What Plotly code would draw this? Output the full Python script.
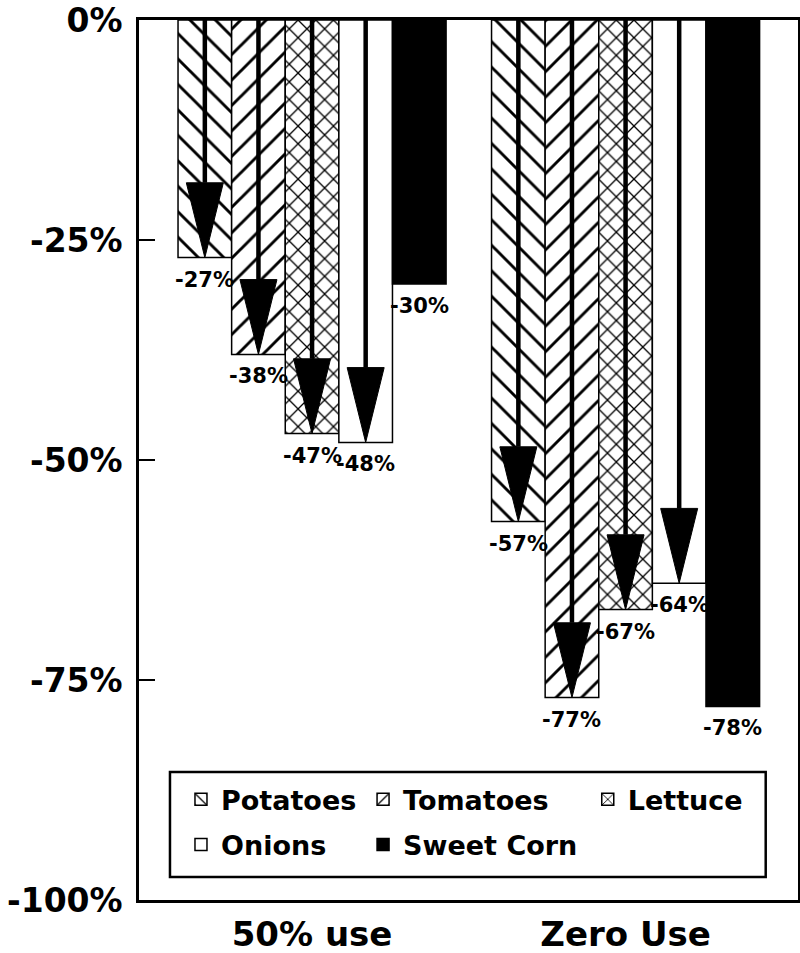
import plotly.graph_objects as go

# ---------------- data ----------------
groups = ["50% use", "Zero Use"]
crops = ["Potatoes", "Tomatoes", "Lettuce", "Onions", "Sweet Corn"]
potatoes = [-27, -57]
tomatoes = [-38, -77]
lettuce = [-47, -67]
onions = [-48, -64]
sweet_corn = [-30, -78]
y_tick_values = [0, -25, -50, -75, -100]
y_tick_labels = ["0%", "-25%", "-50%", "-75%", "-100%"]

series = [potatoes, tomatoes, lettuce, onions, sweet_corn]
has_arrow = [True, True, True, True, False]

# ---------------- styles ----------------
FONT = "DejaVu Sans"
group_pos = [0, 1]
bar_w = 0.171
head_h = 8.5      # arrow head height in axis units (%)
head_hw = 0.059   # arrow head half width in x units

patterns = [
    dict(shape="\\", size=18, solidity=0.16, fgcolor="#000000", bgcolor="#ffffff",
         fgopacity=1, fillmode="replace"),
    dict(shape="/", size=18, solidity=0.16, fgcolor="#000000", bgcolor="#ffffff",
         fgopacity=1, fillmode="replace"),
    dict(shape="x", size=12.5, solidity=0.2, fgcolor="#000000", bgcolor="#ffffff",
         fgopacity=1, fillmode="replace"),
    dict(shape=""),
    dict(shape=""),
]
fills = ["white", "white", "white", "white", "black"]
legend_ids = ["legend", "legend2", "legend3", "legend", "legend2"]

fig = go.Figure()
shapes = []
annotations = []

for i, (name, vals) in enumerate(zip(crops, series)):
    xs = [g + (i - 2) * bar_w for g in group_pos]
    fig.add_trace(go.Bar(
        x=xs, y=vals, width=bar_w, name=name,
        legend=legend_ids[i], legendgroup=name,
        marker=dict(color=fills[i], pattern=patterns[i],
                    line=dict(color="black", width=1.5)),
        showlegend=True,
    ))
    for x, v in zip(xs, vals):
        if has_arrow[i]:
            shapes.append(dict(type="line", xref="x", yref="y",
                               x0=x, x1=x, y0=0, y1=v + head_h,
                               line=dict(color="black", width=4.5), layer="above"))
            shapes.append(dict(type="path", xref="x", yref="y",
                               path=f"M{x - head_hw},{v + head_h} L{x + head_hw},{v + head_h} L{x},{v} Z",
                               fillcolor="black", line=dict(color="black", width=1), layer="above"))
        annotations.append(dict(x=x, y=v, xref="x", yref="y", text=f"{v}%",
                                showarrow=False, yanchor="top", yshift=-8,
                                font=dict(family=FONT, size=21, color="black", weight="bold")))

# legend frame
shapes.append(dict(type="rect", xref="paper", yref="paper",
                   x0=0.047, x1=0.951, y0=0.026, y1=0.1455,
                   line=dict(color="black", width=2.5), fillcolor="white", layer="above"))

legend_font = dict(family=FONT, size=27, color="black", weight="bold")
common_leg = dict(bgcolor="rgba(0,0,0,0)", borderwidth=0, font=legend_font,
                  orientation="v", xanchor="left", yanchor="top", tracegroupgap=7,
                  yref="paper", xref="paper")

fig.update_layout(
    width=800, height=953,
    margin=dict(l=139, r=2, t=20, b=53),
    paper_bgcolor="white", plot_bgcolor="white",
    barmode="overlay",
    shapes=shapes, annotations=annotations,
    legend=dict(x=0.0637, y=0.1417, **common_leg),
    legend2=dict(x=0.340, y=0.1417, **common_leg),
    legend3=dict(x=0.681, y=0.1417, **common_leg),
    xaxis=dict(range=[-0.552, 1.55], tickvals=group_pos, ticktext=groups,
               showgrid=False, zeroline=False, showline=True, mirror=True,
               linecolor="black", linewidth=2.5, ticks="", ticklabelstandoff=2,
               ticklabeloverflow="allow",
               tickfont=dict(family=FONT, size=34, color="black", weight="bold"),
               automargin=False),
    yaxis=dict(range=[-100, 0], tickvals=y_tick_values, ticktext=y_tick_labels,
               showgrid=False, zeroline=False, showline=True, mirror=True,
               linecolor="black", linewidth=2.5, ticks="inside", ticklen=16,
               tickwidth=2, tickcolor="black", ticklabelstandoff=7,
               ticklabeloverflow="allow",
               tickfont=dict(family=FONT, size=33, color="black", weight="bold"),
               automargin=False),
)

# remove the browser's default 8px page margin so the figure fills the window exactly
fig.write_html("out.html", config={"displayModeBar": False},
               post_script="document.body.style.margin='0px';")
